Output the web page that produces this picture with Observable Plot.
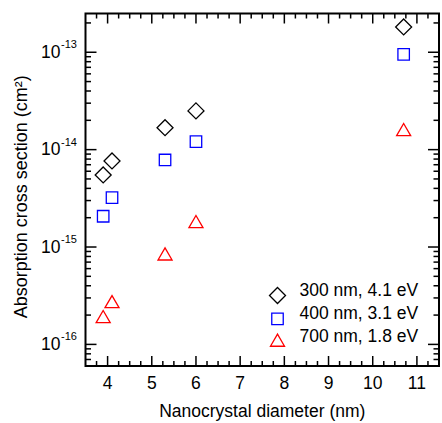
<!DOCTYPE html>
<html><head><meta charset="utf-8">
<script src="https://cdn.jsdelivr.net/npm/d3@7"></script>
<script src="https://cdn.jsdelivr.net/npm/@observablehq/plot@0.6"></script>
<style>body{margin:0;background:#fff;}</style>
</head><body><div id="chart"></div>
<script>
// Data
const diameters = [3.9, 4.1, 5.3, 6.0, 10.7];
const sigma300 = [5.5e-15, 7.65e-15, 1.68e-14, 2.5e-14, 1.82e-13];
const sigma400 = [2.07e-15, 3.21e-15, 7.83e-15, 1.21e-14, 9.5e-14];
const sigma700 = [1.84e-16, 2.62e-16, 8.1e-16, 1.74e-15, 1.53e-14];
const seriesLabels = ["300 nm, 4.1 eV", "400 nm, 3.1 eV", "700 nm, 1.8 eV"];
const seriesSymbols = ["diamond2", "square2", "triangle2"];
const seriesColors = ["#000000", "#0000ff", "#ff0000"];
const xTickValues = [4, 5, 6, 7, 8, 9, 10, 11];
const yDecades = [1e-16, 1e-15, 1e-14, 1e-13];
const yExponents = ["-16", "-15", "-14", "-13"];
const xLabel = "Nanocrystal diameter (nm)";
const yLabel = "Absorption cross section (cm²)";

const xDomain = [3.5, 11.5];
const yDomain = [6e-17, 2.5e-13];
const xMinor = d3.range(3.75, 11.5, 0.25).filter(v => Math.abs(v - Math.round(v)) > 1e-9);
const yMinor = [];
for (let e = -17; e <= -13; e++) for (let k = 2; k <= 9; k++) {
  const v = k * Math.pow(10, e);
  if (v >= yDomain[0] * 0.999 && v <= yDomain[1]) yMinor.push(v);
}

const tickShape = {draw(context, l) { context.moveTo(0, 0); context.lineTo(0, -l); }};
const font = "'Liberation Sans', Arial, Helvetica, sans-serif";
const fs = 17.5;
const tickStyle = {shape: tickShape, anchor: "start", stroke: "#000", strokeWidth: 1.5, strokeLinecap: "butt"};

function ticksX(values, len) {
  return [
    Plot.vector(values, {x: d => d, frameAnchor: "bottom", rotate: 0, length: len, ...tickStyle}),
    Plot.vector(values, {x: d => d, frameAnchor: "top", rotate: 180, length: len, ...tickStyle})
  ];
}
function ticksY(values, len) {
  return [
    Plot.vector(values, {y: d => d, frameAnchor: "left", rotate: 90, length: len, ...tickStyle}),
    Plot.vector(values, {y: d => d, frameAnchor: "right", rotate: 270, length: len, ...tickStyle})
  ];
}

const series = [sigma300, sigma400, sigma700];
const symbolR = [7.2, 7.3, 6.7];
const rowDy = [-70.5, -47.2, -23.8];

const marks = [
  ...ticksX(xTickValues, 10), ...ticksX(xMinor, 5),
  ...ticksY(yDecades, 11), ...ticksY(yMinor, 5.5),
  Plot.frame({stroke: "#000", strokeWidth: 2}),
  Plot.text(xTickValues, {x: d => d, frameAnchor: "bottom", dy: 23, text: d => String(d), fontSize: fs, fill: "#000"}),
  Plot.text(yDecades, {y: d => d, frameAnchor: "left", dx: -25, textAnchor: "end", text: () => "10", fontSize: fs, fill: "#000"}),
  Plot.text(yDecades, {y: d => d, frameAnchor: "left", dx: -24.5, dy: -7.5, textAnchor: "start", text: (d, i) => yExponents[i], fontSize: 11, fill: "#000"}),
  Plot.text([xLabel], {frameAnchor: "bottom", dy: 51, text: d => d, fontSize: fs, fill: "#000"}),
  Plot.text([yLabel], {frameAnchor: "left", dx: -64, dy: 7, rotate: -90, textAnchor: "middle", text: d => d, fontSize: 18, fill: "#000"}),
  ...series.map((s, i) => Plot.dot(s, {x: diameters, y: s, symbol: seriesSymbols[i], r: symbolR[i], stroke: seriesColors[i], strokeWidth: 1.3, fill: "none"})),
  ...seriesLabels.map((lab, i) => Plot.dot([lab], {frameAnchor: "bottom-right", dx: -161.5, dy: rowDy[i], symbol: seriesSymbols[i], r: symbolR[i], stroke: seriesColors[i], strokeWidth: 1.3, fill: "none"})),
  ...seriesLabels.map((lab, i) => Plot.text([lab], {frameAnchor: "bottom-right", dx: -139.5, dy: rowDy[i], textAnchor: "start", text: d => d, fontSize: fs, fill: "#000"}))
];

const chart = Plot.plot({
  width: 442, height: 423,
  marginLeft: 85, marginRight: 3.5, marginTop: 13, marginBottom: 57.5,
  x: {domain: xDomain, axis: null},
  y: {type: "log", domain: yDomain, axis: null},
  style: {fontFamily: font, background: "#fff", color: "#000"},
  marks
});
document.getElementById("chart").appendChild(chart);
</script>
</body></html>
